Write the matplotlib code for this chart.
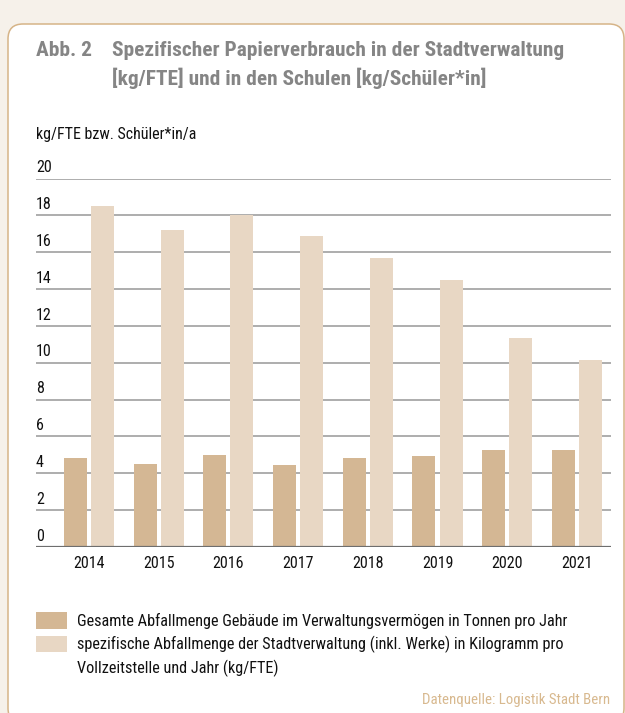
import numpy as np
import matplotlib
matplotlib.use("Agg")
import matplotlib.pyplot as plt
from matplotlib import font_manager
from matplotlib.patches import FancyBboxPatch, Rectangle
from matplotlib.transforms import IdentityTransform

# data
years = ["2014", "2015", "2016", "2017", "2018", "2019", "2020", "2021"]
abfall_tonnen = [4.83, 4.50, 4.99, 4.45, 4.83, 4.94, 5.26, 5.26]
kg_pro_fte = [18.5, 17.2, 18.0, 16.9, 15.7, 14.5, 11.35, 10.15]
y_ticks = [0, 2, 4, 6, 8, 10, 12, 14, 16, 18, 20]

legend_lines = [
    ["Gesamte Abfallmenge Gebäude im Verwaltungsvermögen in Tonnen pro Jahr"],
    ["spezifische Abfallmenge der Stadtverwaltung (inkl. Werke) in Kilogramm pro",
     "Vollzeitstelle und Jahr (kg/FTE)"],
]

DARK = "#d4b794"
LIGHT = "#e8d7c4"
GRID = "#a0a0a0"
TITLE_GREY = "#858585"
SOURCE = "#d8b98f"
TXT = "#111111"

# pick a narrow font if there is one
available = {f.name for f in font_manager.fontManager.ttflist}
family = "DejaVu Sans"
for cand in ["Roboto Condensed", "Liberation Sans Narrow", "Open Sans Condensed",
             "Roboto", "Liberation Sans"]:
    if cand in available:
        family = cand
        break
plt.rcParams["font.family"] = [family, "DejaVu Sans"]

W, H = 625, 713
fig = plt.figure(figsize=(W / 100, H / 100), dpi=100)
fig.patch.set_facecolor("#f6f1ea")

# card with rounded border (pixel coords, origin bottom-left)
card = FancyBboxPatch((8, -10), 616, H - 12 + 10 - 12,
                      boxstyle="round,pad=0,rounding_size=15",
                      transform=IdentityTransform(), facecolor="white",
                      edgecolor="#d6b488", lw=1.1, zorder=0)
fig.add_artist(card)


def px(x, y):
    """pixel from top-left -> figure fraction"""
    return x / W, 1 - y / H


# title
fig.text(*px(36, 56), "Abb. 2", fontsize=15.4, fontweight="bold",
         color=TITLE_GREY, va="baseline")
fig.text(*px(112, 56), "Spezifischer Papierverbrauch in der Stadtverwaltung",
         fontsize=15.4, fontweight="bold", color=TITLE_GREY, va="baseline")
fig.text(*px(112, 85), "[kg/FTE] und in den Schulen [kg/Schüler*in]",
         fontsize=15.4, fontweight="bold", color=TITLE_GREY, va="baseline")

fig.text(*px(36, 139), "kg/FTE bzw. Schüler*in/a", fontsize=11.5,
         color=TXT, va="baseline")

# axes: left 36px, right 611px, y=0 at 547px, y=20 at 178.5px
ax = fig.add_axes([36 / W, 1 - 547 / H, 575 / W, (547 - 178.5) / H])
ax.set_facecolor("none")

x = np.arange(len(years))
bw = 0.33
off = 0.195
ax.bar(x - off, abfall_tonnen, bw, color=DARK, zorder=2)
ax.bar(x + off, kg_pro_fte, bw, color=LIGHT, zorder=2)

ax.set_xlim(-0.76, 7.49)
ax.set_ylim(0, 20)
ax.set_yticks(y_ticks)
ax.yaxis.grid(True, color=GRID, lw=1.2, zorder=1)
ax.axhline(0, color="#6e6e6e", lw=1.6, zorder=3)
ax.set_yticklabels([])
ax.tick_params(axis="y", length=0)
for s in ax.spines.values():
    s.set_visible(False)

for v in y_ticks:
    ax.annotate(str(v), xy=(0, v), xycoords=("axes fraction", "data"),
                xytext=(0, 4.5), textcoords="offset points", ha="left",
                va="baseline", fontsize=11.5, color=TXT)

ax.set_xticks(x)
ax.set_xticklabels(years, fontsize=11.5, color=TXT)
ax.tick_params(axis="x", length=0, pad=6.5)

# legend drawn by hand
for (top, bot), col in zip([(612, 629), (636, 652)], [DARK, LIGHT]):
    x0, y0 = px(36, bot)
    fig.add_artist(Rectangle((x0, y0), 31 / W, (bot - top) / H,
                             transform=fig.transFigure, facecolor=col,
                             edgecolor="none"))
baseline = 626
for lines in legend_lines:
    for line in lines:
        fig.text(*px(77, baseline), line, fontsize=11.7, color=TXT,
                 va="baseline")
        baseline += 23.5

fig.text(*px(610, 704), "Datenquelle: Logistik Stadt Bern", fontsize=10.7,
         color=SOURCE, ha="right", va="baseline")

fig.savefig("out.png", dpi=100, facecolor=fig.get_facecolor())
